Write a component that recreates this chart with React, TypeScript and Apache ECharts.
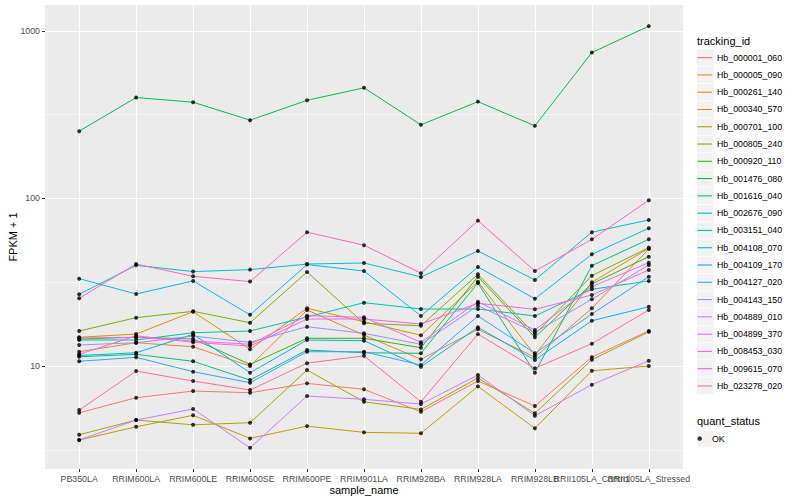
import React, { useEffect, useRef } from "react";
import * as echarts from "echarts";

const categories = [
  "PB350LA", "RRIM600LA", "RRIM600LE", "RRIM600SE", "RRIM600PE", "RRIM901LA",
  "RRIM928BA", "RRIM928LA", "RRIM928LB", "RRII105LA_Control", "RRII105LA_Stressed",
];

const trackingIds = [
  "Hb_000001_060", "Hb_000005_090", "Hb_000261_140", "Hb_000340_570", "Hb_000701_100",
  "Hb_000805_240", "Hb_000920_110", "Hb_001476_080", "Hb_001616_040", "Hb_002676_090",
  "Hb_003151_040", "Hb_004108_070", "Hb_004109_170", "Hb_004127_020", "Hb_004143_150",
  "Hb_004889_010", "Hb_004899_370", "Hb_008453_030", "Hb_009615_070", "Hb_023278_020",
];

const palette = [
  "#F8766D", "#EA8331", "#D89000", "#C09B00", "#A3A500", "#7CAE00", "#39B600", "#00BB4E",
  "#00BF7D", "#00C1A3", "#00BFC4", "#00BAE0", "#00B0F6", "#35A2FF", "#9590FF", "#C77CFF",
  "#E76BF3", "#FA62DB", "#FF62BC", "#FF6C91",
];

const Hb_000001_060 = [5.26, 6.47, 7.09, 6.93, 7.88, 7.26, 5.33, 8.14, 5.77, 11.3, 16.2];
const Hb_000005_090 = [12.17, 13.77, 13.04, 10.0, 21.59, 15.31, 10.96, 16.56, 11.27, 22.11, 49.96];
const Hb_000261_140 = [14.84, 15.52, 21.09, 12.58, 22.11, 18.38, 15.25, 31.86, 11.63, 31.6, 50.44];
const Hb_000340_570 = [3.62, 4.34, 5.08, 3.7, 4.38, 4.02, 3.97, 7.56, 4.25, 9.37, 10.0];
const Hb_000701_100 = [3.89, 4.76, 4.46, 4.59, 9.46, 6.12, 5.51, 8.48, 5.22, 10.9, 16.0];
const Hb_000805_240 = [16.18, 19.43, 21.21, 18.13, 36.4, 17.98, 17.4, 35.27, 15.46, 34.6, 50.86];
const Hb_000920_110 = [14.5, 14.84, 14.5, 10.23, 14.64, 14.64, 12.86, 34.12, 14.84, 30.9, 44.94];
const Hb_001476_080 = [252, 400, 375, 293, 385, 457, 275, 378, 271, 742, 1067];
const Hb_001616_040 = [11.36, 11.74, 10.67, 8.25, 12.46, 12.0, 11.91, 31.29, 9.12, 39.7, 57.07];
const Hb_002676_090 = [14.3, 14.3, 15.8, 16.18, 19.61, 23.88, 21.89, 21.89, 19.89, 28.7, 32.18];
const Hb_003151_040 = [26.8, 39.9, 36.6, 37.6, 40.6, 41.2, 34.0, 48.6, 32.6, 62.9, 74.4];
const Hb_004108_070 = [33.2, 26.9, 32.2, 20.2, 40.3, 36.9, 19.9, 39.0, 25.2, 46.4, 66.4];
const Hb_004109_170 = [11.55, 12.0, 15.46, 9.12, 14.3, 14.16, 9.9, 17.02, 10.86, 18.63, 22.59];
const Hb_004127_020 = [10.67, 11.27, 9.25, 7.95, 12.17, 12.17, 10.14, 19.89, 11.91, 20.44, 34.12];
const Hb_004143_150 = [13.35, 13.77, 15.1, 13.85, 17.16, 15.67, 13.48, 22.91, 15.89, 25.01, 40.09];
const Hb_004889_010 = [3.62, 4.76, 5.54, 3.25, 6.62, 6.33, 5.93, 8.84, 5.05, 7.74, 10.75];
const Hb_004899_370 = [14.7, 14.84, 14.1, 13.48, 19.97, 19.53, 13.85, 24.21, 16.4, 29.75, 41.38];
const Hb_008453_030 = [11.74, 15.16, 13.85, 13.16, 19.08, 19.08, 17.81, 23.68, 21.8, 26.54, 37.41];
const Hb_009615_070 = [25.4, 40.6, 34.3, 31.9, 62.9, 52.6, 35.8, 73.7, 36.9, 57.0, 97.6];
const Hb_023278_020 = [5.46, 9.33, 8.14, 7.19, 10.4, 11.5, 6.12, 15.5, 9.69, 13.6, 21.6];

const seriesValues = [
  Hb_000001_060, Hb_000005_090, Hb_000261_140, Hb_000340_570, Hb_000701_100,
  Hb_000805_240, Hb_000920_110, Hb_001476_080, Hb_001616_040, Hb_002676_090,
  Hb_003151_040, Hb_004108_070, Hb_004109_170, Hb_004127_020, Hb_004143_150,
  Hb_004889_010, Hb_004899_370, Hb_008453_030, Hb_009615_070, Hb_023278_020,
];

const yMajorTicks = [10, 100, 1000];
const yMinorTicks = [3.1623, 31.623, 316.23];
const xTicks = categories.map((_, i) => i);
// label groups (one axis each so that ECharts does not hide the overlapping last labels)
const xLabelGroups = [xTicks.slice(0, 9), [9], [10]];

const FONT = "Liberation Sans, Arial, Helvetica, sans-serif";

export default function App() {
  const ref = useRef<HTMLDivElement>(null);

  useEffect(() => {
    if (!ref.current) return;
    const chart = echarts.init(ref.current, undefined, { renderer: "svg" });

    const lineSeries = trackingIds.map((name, k) => ({
      name,
      type: "line",
      xAxisIndex: 0,
      yAxisIndex: 0,
      data: seriesValues[k].map((v, i) => [i, v]),
      showSymbol: false,
      symbol: "none",
      lineStyle: { width: 1, color: palette[k] },
      itemStyle: { color: palette[k] },
      color: palette[k],
      z: 2,
    }));

    const okPoints: number[][] = [];
    seriesValues.forEach((arr) => arr.forEach((v, i) => okPoints.push([i, v])));

    const keyRects = trackingIds.map((_, i) => ({
      type: "rect",
      silent: true,
      shape: { x: 696.5, y: 49 + i * 17.28, width: 17.28, height: 17.28 },
      style: { fill: "#F2F2F2", stroke: "#FFFFFF", lineWidth: 0.6 },
      z: 0,
    }));

    const xLabelStyle = {
      color: "#4D4D4D",
      fontSize: 8.8,
      margin: 5.5,
      fontFamily: FONT,
      hideOverlap: false,
      formatter: (v: number) => categories[Math.round(v)] ?? "",
    };

    const xAxes = xLabelGroups.map((group, gi) => {
      const base: any = {
        type: "value",
        min: -0.6,
        max: 10.6,
        position: "bottom",
        axisLine: { show: false, onZero: false },
        axisLabel: { ...xLabelStyle, customValues: group },
      };
      if (gi === 0) {
        return {
          ...base,
          name: "sample_name",
          nameLocation: "middle",
          nameGap: 15,
          nameMoveOverlap: false,
          nameTextStyle: { color: "#000", fontSize: 11, fontFamily: FONT },
          axisTick: { show: true, length: 3, lineStyle: { color: "#333333", width: 1 }, customValues: xTicks },
          splitLine: { show: true, lineStyle: { color: "#FFFFFF", width: 1.1 } },
        };
      }
      return {
        ...base,
        axisTick: { show: false, customValues: group },
        splitLine: { show: false },
      };
    });

    const option: any = {
      animation: false,
      textStyle: { fontFamily: FONT },
      grid: {
        left: 45,
        right: 117,
        top: 5,
        bottom: 31,
        show: true,
        backgroundColor: "#EBEBEB",
        borderWidth: 0,
        containLabel: false,
        outerBoundsMode: "none",
      },
      xAxis: xAxes,
      yAxis: [
        {
          type: "log",
          logBase: 10,
          min: 2.43,
          max: 1426,
          name: "FPKM + 1",
          nameLocation: "middle",
          nameGap: 27,
          nameMoveOverlap: false,
          nameTextStyle: { color: "#000", fontSize: 11, fontFamily: FONT },
          axisLine: { show: false, onZero: false },
          axisTick: { show: true, length: 3, lineStyle: { color: "#333333", width: 1 }, customValues: yMajorTicks },
          axisLabel: {
            customValues: yMajorTicks,
            color: "#4D4D4D",
            fontSize: 8.8,
            margin: 5,
            fontFamily: FONT,
            showMinLabel: true,
            showMaxLabel: true,
            formatter: (v: number) => String(Math.round(v)),
          },
          splitLine: { show: true, lineStyle: { color: "#FFFFFF", width: 1.1 } },
          minorSplitLine: { show: false },
        },
        {
          type: "log",
          logBase: 10,
          min: 2.43,
          max: 1426,
          position: "left",
          axisLine: { show: false, onZero: false },
          axisTick: { show: false, customValues: yMinorTicks },
          axisLabel: { show: false, customValues: yMinorTicks },
          splitLine: { show: true, lineStyle: { color: "#FFFFFF", width: 0.55 } },
        },
      ],
      legend: [
        {
          orient: "vertical",
          left: 697.5,
          top: 49,
          padding: 0,
          itemGap: 0,
          itemWidth: 14.5,
          itemHeight: 1.1,
          icon: "rect",
          data: trackingIds,
          selectedMode: false,
          textStyle: { color: "#000", fontSize: 8.8, lineHeight: 17.28, fontFamily: FONT },
        },
        {
          orient: "vertical",
          left: 697.5,
          top: 430,
          padding: 0,
          itemGap: 0,
          itemWidth: 14.5,
          itemHeight: 4.5,
          icon: "circle",
          data: ["OK"],
          selectedMode: false,
          textStyle: { color: "#000", fontSize: 8.8, lineHeight: 17.28, fontFamily: FONT },
        },
      ],
      graphic: [
        ...keyRects,
        {
          type: "rect",
          silent: true,
          shape: { x: 696.5, y: 430, width: 17.28, height: 17.28 },
          style: { fill: "#F2F2F2", stroke: "#FFFFFF", lineWidth: 0.6 },
          z: 0,
        },
        {
          type: "text",
          silent: true,
          x: 697,
          y: 41,
          style: { text: "tracking_id", fontSize: 11, fill: "#000", fontFamily: FONT, verticalAlign: "middle" },
        },
        {
          type: "text",
          silent: true,
          x: 697,
          y: 421,
          style: { text: "quant_status", fontSize: 11, fill: "#000", fontFamily: FONT, verticalAlign: "middle" },
        },
      ],
      series: [
        ...lineSeries,
        {
          name: "OK",
          type: "scatter",
          xAxisIndex: 0,
          yAxisIndex: 0,
          data: okPoints,
          symbol: "circle",
          symbolSize: 4,
          itemStyle: { color: "#000000" },
          color: "#000000",
          z: 3,
        },
      ],
    };

    chart.setOption(option);
    return () => chart.dispose();
  }, []);

  return (
    <div
      ref={ref}
      style={{ position: "fixed", left: 0, top: 0, width: 800, height: 500, background: "#fff" }}
    />
  );
}
